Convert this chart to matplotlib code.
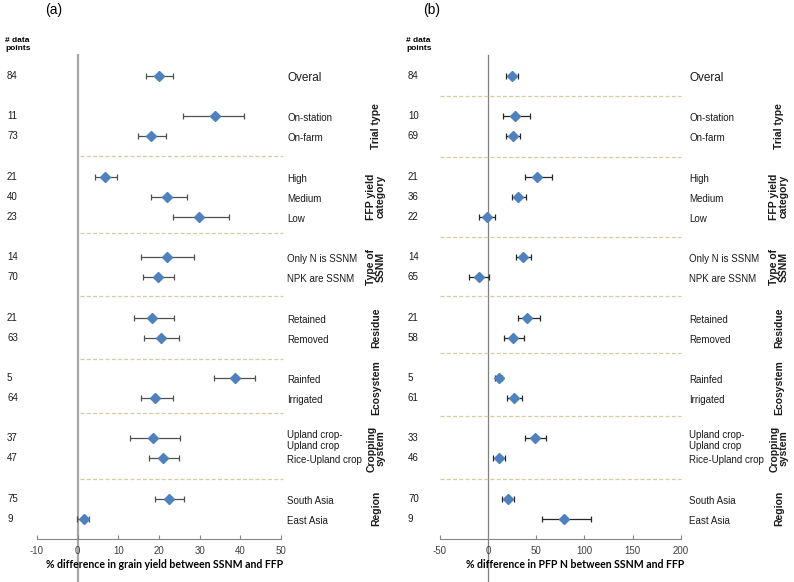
import numpy as np
import matplotlib
matplotlib.use("Agg")
import matplotlib.pyplot as plt
import matplotlib.transforms as mtrans

plt.rcParams['font.family'] = ['Liberation Sans', 'DejaVu Sans']
plt.rcParams['axes.unicode_minus'] = False

# ---- data ----
categories = ["Overal", "On-station", "On-farm", "High", "Medium", "Low",
              "Only N is SSNM", "NPK are SSNM", "Retained", "Removed",
              "Rainfed", "Irrigated", "Upland crop-\nUpland crop",
              "Rice-Upland crop", "South Asia", "East Asia"]
groups = ["Trial type", "FFP yield\ncategory", "Type of\nSSNM", "Residue",
          "Ecosystem", "Cropping\nsystem", "Region"]
group_rows = [(1, 2), (3, 5), (6, 7), (8, 9), (10, 11), (12, 13), (14, 15)]

n_yield = [84, 11, 73, 21, 40, 23, 14, 70, 21, 63, 5, 64, 37, 47, 75, 9]
n_pfp = [84, 10, 69, 21, 36, 22, 14, 65, 21, 58, 5, 61, 33, 46, 70, 9]

yield_mean = [20.1, 33.8, 18.1, 6.8, 22.0, 29.8, 21.9, 19.7, 18.3, 20.6, 38.6, 19.1, 18.6, 21.1, 22.5, 1.5]
yield_lo = [16.7, 26.0, 14.8, 4.3, 18.0, 23.4, 15.6, 16.1, 13.9, 16.4, 33.6, 15.5, 12.9, 17.6, 19.1, -0.1]
yield_hi = [23.5, 41.0, 21.6, 9.7, 26.8, 37.3, 28.6, 23.6, 23.7, 25.0, 43.7, 23.4, 25.2, 24.9, 26.1, 2.9]

pfp_mean = [24.6, 28.4, 26.0, 50.5, 31.5, -1.0, 36.7, -8.9, 40.8, 26.3, 11.1, 27.4, 49.2, 11.4, 20.4, 78.6]
pfp_lo = [18.4, 15.2, 18.4, 38.4, 25.3, -9.3, 29.4, -19.3, 30.8, 16.6, 7.6, 19.4, 38.8, 5.6, 14.2, 56.0]
pfp_hi = [31.1, 43.3, 33.6, 66.4, 39.1, 7.3, 44.6, 1.0, 54.0, 37.4, 14.9, 35.3, 60.6, 17.6, 27.4, 106.9]

# ---- layout ----
slots = [0, 2, 3, 5, 6, 7, 9, 10, 12, 13, 15, 16, 18, 19, 21, 22]
W, H = 794, 582

fig = plt.figure(figsize=(W / 100, H / 100), dpi=100)


def fx(px):
    return px / W


def make_panel(left_px, right_px, xlim, xticks, mean, lo, hi, counts, seps,
               sep_span, zero_col, zero_lw, err_col, cat_x, grp_x, count_x,
               tag, tag_x, xlabel, xlabel_x):
    top_px, bot_px = 45.8, 539
    ax = fig.add_axes([fx(left_px), 1 - bot_px / H, fx(right_px - left_px),
                       (bot_px - top_px) / H])
    ax.set_xlim(*xlim)
    ax.set_ylim(23, -1.5)
    for s in ['left', 'top', 'right']:
        ax.spines[s].set_visible(False)
    ax.spines['bottom'].set_color('#868686')
    ax.spines['bottom'].set_linewidth(0.8)
    ax.set_yticks([])
    ax.set_xticks(xticks)
    ax.tick_params(axis='x', direction='in', length=3, width=0.8,
                   color='#868686', labelsize=7, labelcolor='#404040', pad=5)

    # zero line running past the axis
    ax.plot([0, 0], [-1.05, 25.2], color=zero_col, lw=zero_lw, clip_on=False,
            zorder=1)

    for y in seps:
        ax.axhline(y, xmin=sep_span[0], xmax=sep_span[1], color='#d4cda3',
                   lw=0.9, ls=(0, (3.2, 1.8)), clip_on=False, zorder=1)

    m = np.array(mean)
    err = [m - np.array(lo), np.array(hi) - m]
    ax.errorbar(m, slots, xerr=err, fmt='D', color='#4f81bd', ms=5.5,
                ecolor=err_col, elinewidth=0.9, capsize=2.3, capthick=0.9,
                zorder=3)

    tr = mtrans.blended_transform_factory(fig.transFigure, ax.transData)
    for i, (c, n) in enumerate(zip(categories, counts)):
        fs = 8.5 if i == 0 else 7
        ax.text(fx(cat_x), slots[i] + 0.1, c, transform=tr, fontsize=fs,
                va='center', ha='left', color='#1a1a1a', linespacing=1.15)
        ax.text(fx(count_x), slots[i], str(n), transform=tr, fontsize=7,
                va='center', ha='left', color='#1a1a1a')
    for g, (a, b) in zip(groups, group_rows):
        yc = (slots[a] + slots[b]) / 2
        ax.text(fx(grp_x), yc, g, transform=tr, fontsize=7.5,
                fontweight='bold', rotation=90, va='center', ha='center',
                linespacing=0.95, color='#1a1a1a')

    fig.text(fx(count_x - 2), 1 - 44.5 / H, "# data\npoints", fontsize=6,
             fontweight='bold', va='center', ha='left', linespacing=1.05)
    fig.text(fx(tag_x), 1 - 10 / H, tag, fontsize=10, va='center',
             ha='center')
    fig.text(fx(xlabel_x), 1 - 564 / H, xlabel, fontsize=7.6, va='center',
             ha='center', fontweight='bold', family=['Lato', 'DejaVu Sans'])
    return ax


make_panel(37, 281, (-10, 50), np.arange(-10, 51, 10), yield_mean, yield_lo,
           yield_hi, n_yield, [3.99, 7.8, 10.92, 14.05, 16.73, 20.0],
           (0.176, 1.008), '#a6a6a6', 1.6, '#505050', 287, 376, 7, "(a)", 54,
           "% difference in grain yield between SSNM and FFP", 165)

make_panel(439.7, 681, (-50, 200), np.arange(-50, 201, 50), pfp_mean, pfp_lo,
           pfp_hi, n_pfp, [1.0, 4.0, 8.0, 10.92, 13.78, 16.9, 20.0],
           (0.0, 1.0), '#7f7f7f', 0.9, '#262626', 689, 779, 408, "(b)", 432,
           "% difference in PFP N between SSNM and FFP", 575)

fig.savefig("out.png", dpi=100)
